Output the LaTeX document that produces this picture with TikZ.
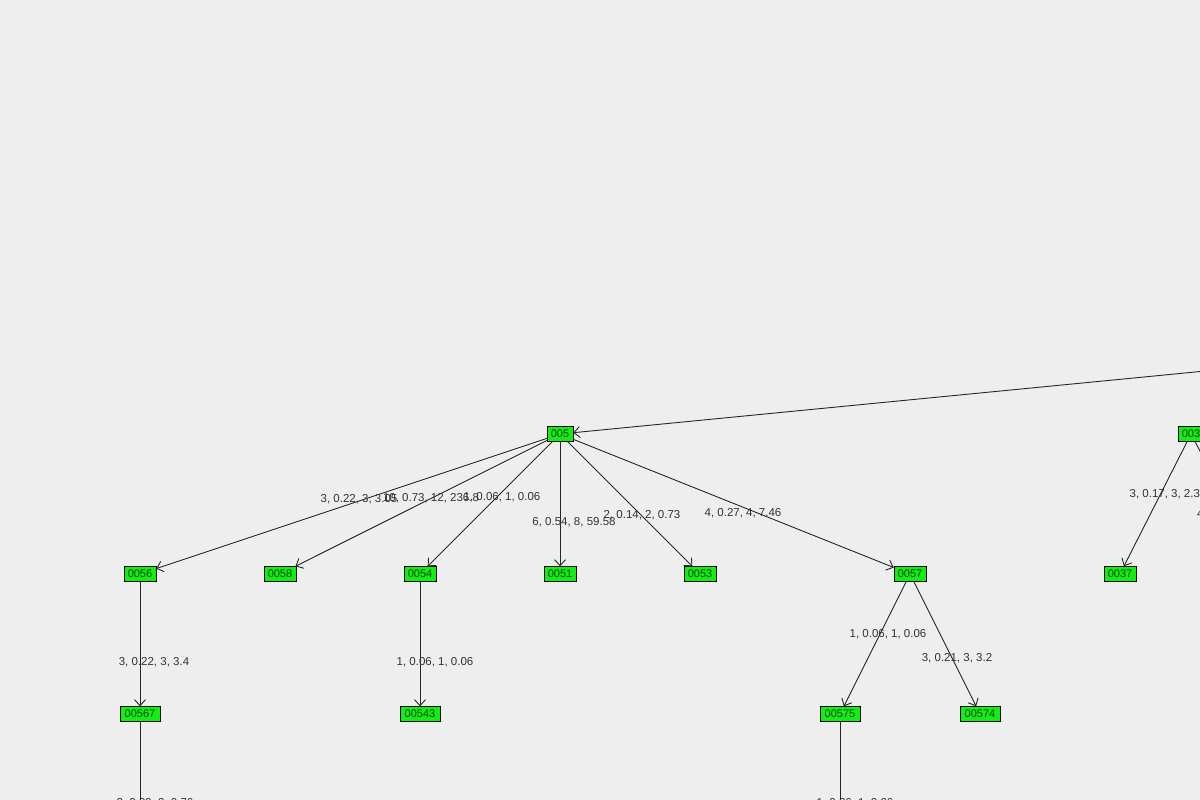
\documentclass[tikz,border=0pt]{standalone}
\usepackage{fontspec}
\setmainfont{Liberation Sans}
\usetikzlibrary{arrows.meta}
\definecolor{bg}{HTML}{EEEEEE}
\definecolor{ng}{HTML}{11EE11}
\definecolor{tx}{HTML}{333333}
\tikzset{
 nd/.style={draw=black,fill=ng,inner sep=0pt,minimum height=15pt,minimum width=#1,font=\fontsize{11}{12}\selectfont,text=black!75!green},
 nd/.default=32pt,
 ed/.style={draw=black!85,-{Straight Barb[length=6pt,width=11pt]},line width=0.9pt},
 lb/.style={font=\fontsize{11.5}{12}\selectfont,text=tx,inner sep=0pt}
}
\begin{document}
\begin{tikzpicture}[x=1pt,y=-1pt]
\useasboundingbox (0,0) rectangle (1200,800);
\fill[bg] (0,0) rectangle (1200,800);
\clip (0,0) rectangle (1200,800);
\coordinate (root) at (1400,352);
\node[nd=26pt] (n005) at (560,434) {005};
\node[nd=26pt] (n003) at (1191,434) {003};
\node[nd] (n0056) at (140,574) {0056};
\node[nd] (n0058) at (280,574) {0058};
\node[nd] (n0054) at (420,574) {0054};
\node[nd] (n0051) at (560,574) {0051};
\node[nd] (n0053) at (700,574) {0053};
\node[nd] (n0057) at (910,574) {0057};
\node[nd] (n0037) at (1120,574) {0037};
\coordinate (c003b) at (1265,574);
\node[nd=40pt] (n00567) at (140,714) {00567};
\node[nd=40pt] (n00543) at (420,714) {00543};
\node[nd=40pt] (n00575) at (840,714) {00575};
\node[nd=40pt] (n00574) at (980,714) {00574};
\coordinate (b1) at (140,830);
\coordinate (b2) at (840,830);
\draw[ed] (root) -- (n005);
\draw[ed] (n005) -- (n0056);
\draw[ed] (n005) -- (n0058);
\draw[ed] (n005) -- (n0054);
\draw[ed] (n005) -- (n0051);
\draw[ed] (n005) -- (n0053);
\draw[ed] (n005) -- (n0057);
\draw[ed] (n003) -- (n0037);
\draw[ed] (n003) -- (c003b);
\draw[ed] (n0056) -- (n00567);
\draw[ed] (n0054) -- (n00543);
\draw[ed] (n0057) -- (n00575);
\draw[ed] (n0057) -- (n00574);
\draw[ed] (n00567) -- (b1);
\draw[ed] (n00575) -- (b2);
\node[lb] at (359,499) {3, 0.22, 3, 3.05};
\node[lb] at (431,498) {10, 0.73, 12, 236.8};
\node[lb] at (502,497) {1, 0.06, 1, 0.06};
\node[lb] at (574,522) {6, 0.54, 8, 59.58};
\node[lb] at (642,515) {2, 0.14, 2, 0.73};
\node[lb] at (743,513) {4, 0.27, 4, 7.46};
\node[lb] at (1168,494) {3, 0.17, 3, 2.34};
\node[lb,anchor=west] at (1197,514) {4, 0.27};
\node[lb] at (154,662) {3, 0.22, 3, 3.4};
\node[lb] at (435,662) {1, 0.06, 1, 0.06};
\node[lb] at (888,634) {1, 0.06, 1, 0.06};
\node[lb] at (957,658) {3, 0.21, 3, 3.2};
\node[lb] at (155,803) {2, 0.09, 2, 0.76};
\node[lb] at (855,803) {1, 0.06, 1, 0.06};
\end{tikzpicture}
\end{document}
